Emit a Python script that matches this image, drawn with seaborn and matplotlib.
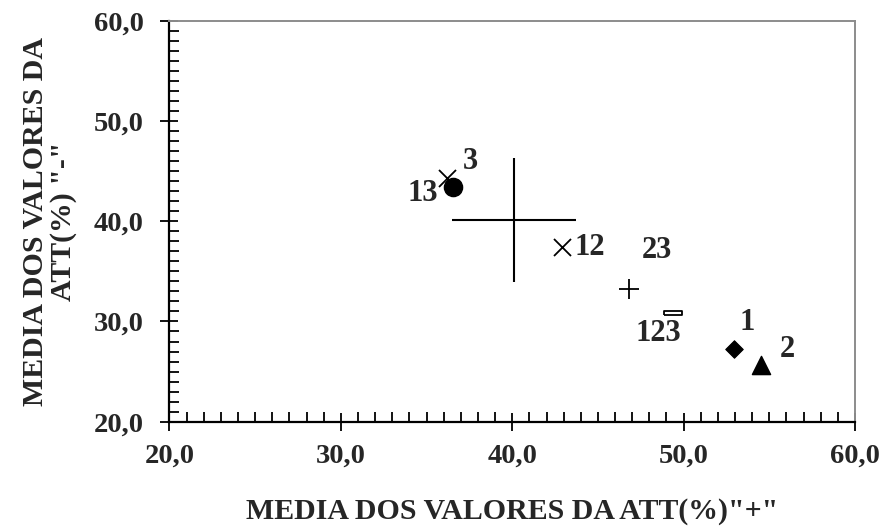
import matplotlib
matplotlib.use("Agg")
import matplotlib.pyplot as plt
import seaborn as sns
from matplotlib.ticker import MultipleLocator

# ---- data ----
point_labels = ["13", "3", "12", "23", "123", "1", "2"]
point_x = [36.17, 36.56, 42.88, 46.81, 49.36, 52.94, 54.49]
point_y = [44.28, 43.44, 37.40, 33.24, 30.87, 27.26, 25.66]

center_x = 40.1
center_y = 40.1
center_xerr = 3.62
center_yerr = 6.17

tick_values = [20, 30, 40, 50, 60]
tick_labels = ["20,0", "30,0", "40,0", "50,0", "60,0"]

x_title = 'MEDIA DOS VALORES DA ATT(%)"+"'
y_title = 'MEDIA DOS VALORES DA\nATT(%) "-"'

# ---- styles ----
rect_marker = [(-1, -0.2), (1, -0.2), (1, 0.2), (-1, 0.2), (-1, -0.2)]
marker_style = {
    "13": dict(marker="x", s=150, color="k", linewidth=1.3),
    "3": dict(marker="o", s=170, color="k", edgecolor="k"),
    "12": dict(marker="x", s=150, color="k", linewidth=1.3),
    "23": dict(marker="+", s=210, color="k", linewidth=1.3),
    "123": dict(marker=rect_marker, s=170, facecolor="white", edgecolor="k", linewidth=1.3),
    "1": dict(marker="D", s=80, color="k", edgecolor="k"),
    "2": dict(marker="^", s=170, color="k", edgecolor="k"),
}
label_offsets = {
    "13": (-24, -15),
    "3": (17, 25),
    "12": (28, 0),
    "23": (28, 38),
    "123": (-14, -21),
    "1": (13, 26),
    "2": (27, 15),
}

sns.set_style("white")
plt.rcParams["font.family"] = ["Liberation Serif", "DejaVu Serif"]
plt.rcParams["font.weight"] = "bold"

fig = plt.figure(figsize=(8.84, 5.31), dpi=100)
ax = fig.add_axes([0.1917, 0.2058, 0.9672 - 0.1917, 0.961 - 0.2058])

ax.errorbar([center_x], [center_y], xerr=[center_xerr], yerr=[center_yerr],
            fmt="none", ecolor="k", elinewidth=1.5, capsize=0)

for lab, xv, yv in zip(point_labels, point_x, point_y):
    sns.scatterplot(x=[xv], y=[yv], ax=ax, legend=False, zorder=3, **marker_style[lab])
    ax.annotate(lab, (xv, yv), xytext=label_offsets[lab], textcoords="offset pixels",
                ha="center", va="center", fontsize=22, fontweight="bold")

ax.set_xlim(20, 60)
ax.set_ylim(20, 60)
ax.set_xticks(tick_values, tick_labels)
ax.set_yticks(tick_values, tick_labels)
ax.xaxis.set_minor_locator(MultipleLocator(1))
ax.yaxis.set_minor_locator(MultipleLocator(1))
ax.tick_params(which="major", direction="inout", length=13, width=1.3, color="k",
               labelsize=20.5, bottom=True, left=True)
ax.tick_params(axis="x", which="major", pad=9)
ax.tick_params(axis="y", which="major", pad=12)
ax.tick_params(which="minor", direction="in", length=7, width=1.3, color="k",
               bottom=True, left=True)
for lab in ax.get_xticklabels() + ax.get_yticklabels():
    lab.set_fontweight("bold")

for side in ["left", "bottom"]:
    ax.spines[side].set_color("k")
    ax.spines[side].set_linewidth(1.6)
for side in ["top", "right"]:
    ax.spines[side].set_color("#8c8c8c")
    ax.spines[side].set_linewidth(1.4)

ax.set_xlabel(x_title, fontsize=21.5, fontweight="bold")
ax.set_ylabel(y_title, fontsize=21.5, fontweight="bold", linespacing=1.05)
ax.xaxis.set_label_coords(0.5, -0.19)
ax.yaxis.set_label_coords(-0.135, 0.5)

fig.savefig("out.png", dpi=100)
